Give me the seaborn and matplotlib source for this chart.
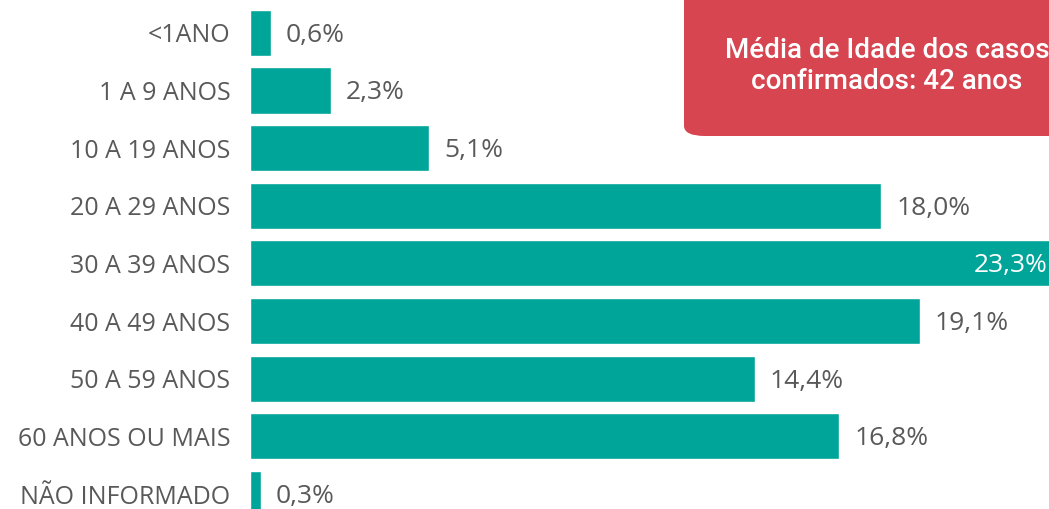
import matplotlib
matplotlib.use("Agg")
import matplotlib.pyplot as plt
import seaborn as sns
import pandas as pd
from matplotlib.patches import FancyBboxPatch

faixas = ["<1ANO", "1 A 9 ANOS", "10 A 19 ANOS", "20 A 29 ANOS", "30 A 39 ANOS",
          "40 A 49 ANOS", "50 A 59 ANOS", "60 ANOS OU MAIS", "NÃO INFORMADO"]
percentuais = [0.6, 2.3, 5.1, 18.0, 23.3, 19.1, 14.4, 16.8, 0.3]
rotulos = ["0,6%", "2,3%", "5,1%", "18,0%", "23,3%", "19,1%", "14,4%", "16,8%", "0,3%"]
media_texto = "Média de Idade dos casos\nconfirmados: 42 anos"

sns.set_style("white")
plt.rcParams["font.family"] = ["Open Sans", "DejaVu Sans"]

df = pd.DataFrame({"faixa": faixas, "pct": percentuais})

fig = plt.figure(figsize=(10.49, 5.09), dpi=100)
ax = fig.add_axes([250 / 1049, 0, 799 / 1049, 1])

sns.barplot(data=df, y="faixa", x="pct", orient="h", color="#00A599",
            saturation=1, width=0.8, ax=ax)

xmax = 22.79
ax.set_xlim(0, xmax)
ax.set_ylim(8.26, -0.57)

for i, (v, txt) in enumerate(zip(percentuais, rotulos)):
    if v > xmax:
        ax.text(xmax - 0.05, i + 0.03, txt, ha="right", va="center",
                fontsize=19, color="white")
    else:
        ax.text(v + 0.43, i + 0.04, txt, ha="left", va="center",
                fontsize=19, color="#595959")

ax.set_xlabel("")
ax.set_ylabel("")
ax.set_xticks([])
ax.tick_params(axis="y", length=0, pad=14, labelsize=18, labelcolor="#595959")
sns.despine(ax=ax, left=True, bottom=True)

# caixa vermelha com a média
caixa = FancyBboxPatch((684 / 1049, 373 / 509), 400 / 1049, 160 / 509,
                       boxstyle="round,pad=0,rounding_size=0.02",
                       transform=fig.transFigure, facecolor="#D64550",
                       edgecolor="none", clip_on=False, zorder=5)
fig.patches.append(caixa)
fig.text(887 / 1049, 443 / 509, media_texto, ha="center", va="center",
         fontsize=20, color="white", family=["Roboto", "DejaVu Sans"],
         fontweight="medium", linespacing=1.15, zorder=6)

fig.savefig("out.png", dpi=100)
